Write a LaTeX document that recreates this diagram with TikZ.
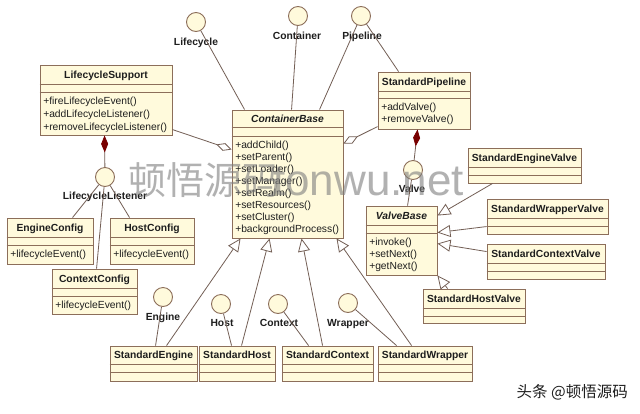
\documentclass[tikz,border=0pt]{standalone}
\usepackage{fontspec}
\setmainfont{Liberation Sans}
\newfontfamily\cjk{Noto Sans CJK SC}
\usetikzlibrary{arrows.meta,calc}
\definecolor{boxfill}{RGB}{255,250,220}
\definecolor{boxdraw}{RGB}{140,110,90}
\definecolor{linec}{RGB}{115,95,85}
\definecolor{darkred}{RGB}{120,0,0}
\definecolor{txt}{RGB}{30,30,30}
\definecolor{wmgray}{RGB}{125,125,125}
\tikzset{
  classbox/.style={draw=boxdraw, fill=boxfill, line width=0.9pt, inner sep=0pt, rectangle},
  sepline/.style={draw=boxdraw, line width=0.9pt},
  ctitle/.style={font=\fontsize{10.3}{12}\selectfont\bfseries, text=txt, inner sep=0pt, text height=7.4pt, text depth=0pt},
  ititle/.style={ctitle, font=\fontsize{10.3}{12}\selectfont\bfseries\itshape},
  methods/.style={font=\fontsize{10.3}{12}\selectfont, text=txt, inner sep=0pt, align=left, anchor=north west},
  iface/.style={circle, draw=boxdraw, fill=boxfill, line width=0.9pt, minimum size=19pt, inner sep=0pt},
  ilabel/.style={ctitle},
  conn/.style={draw=linec, line width=0.8pt},
  gen/.style={conn, -{Triangle[length=13pt,width=12pt,fill=white]}},
  agg/.style={conn, -{Diamond[length=16pt,width=8pt,fill=white]}},
  comp/.style={conn, {Diamond[length=17pt,width=7pt,fill=darkred,color=darkred]}-},
  wmk/.style={text=wmgray, opacity=0.6, inner sep=0pt, anchor=base west}
}
% name, x1, y1, x2, y2, title height, empty height, title style, title
\newcommand{\drawclass}[9]{%
  \node[classbox, minimum width={(#4)-(#2)}, minimum height={(#5)-(#3)}] (#1) at ({((#2)+(#4))/2},{((#3)+(#5))/2}) {};
  \draw[sepline] ([yshift={-(#6)}]#1.north west) -- ([yshift={-(#6)}]#1.north east);
  \draw[sepline] ([yshift={-(#6)-(#7)}]#1.north west) -- ([yshift={-(#6)-(#7)}]#1.north east);
  \node[#8] (#1t) at ([yshift={-(#6)/2}]#1.north) {#9};
}
\begin{document}
\begin{tikzpicture}[x=1pt,y=-1pt]
\fill[white] (0,0) rectangle (640,413);
\useasboundingbox (0,0) rectangle (640,413);

% classes
\drawclass{ls}{40}{65}{172}{135}{20}{8}{ctitle}{LifecycleSupport}
\drawclass{cb}{232}{110}{343}{238}{18}{9}{ititle}{ContainerBase}
\drawclass{sp}{378}{72}{470}{129}{20}{7}{ctitle}{StandardPipeline}
\drawclass{vb}{366}{206}{437}{275}{20}{8}{ititle}{ValveBase}
\drawclass{sev}{468}{148}{581}{183}{20}{8}{ctitle}{StandardEngineValve}
\drawclass{swv}{487}{199}{608}{234}{20}{8}{ctitle}{StandardWrapperValve}
\drawclass{scv}{487}{244}{605}{279}{20}{8}{ctitle}{StandardContextValve}
\drawclass{shv}{423}{289}{525}{323}{20}{8}{ctitle}{StandardHostValve}
\drawclass{ec}{7}{218}{93}{264}{20}{8}{ctitle}{EngineConfig}
\drawclass{hc}{110}{218}{194}{264}{20}{8}{ctitle}{HostConfig}
\drawclass{cc}{52}{269}{137}{314}{20}{8}{ctitle}{ContextConfig}
\drawclass{se}{110}{346}{197}{381}{19}{8}{ctitle}{StandardEngine}
\drawclass{sh}{199}{346}{275}{381}{19}{8}{ctitle}{StandardHost}
\drawclass{sc}{282}{346}{373}{381}{19}{8}{ctitle}{StandardContext}
\drawclass{sw}{378}{346}{472}{381}{19}{8}{ctitle}{StandardWrapper}

% methods
\node[methods, font=\fontsize{10.3}{13}\selectfont] (lsm) at ([xshift=3.5pt,yshift=-32pt]ls.north west)
  {+fireLifecycleEvent()\\+addLifecycleListener()\\+removeLifecycleListener()};
\node[methods] (cbm) at ([xshift=3.5pt,yshift=-31pt]cb.north west)
  {+addChild()\\+setParent()\\+setLoader()\\+setManager()\\+setRealm()\\+setResources()\\+setCluster()\\+backgroundProcess()};
\node[methods] (spm) at ([xshift=3.5pt,yshift=-31pt]sp.north west)
  {+addValve()\\+removeValve()};
\node[methods] (vbm) at ([xshift=3.5pt,yshift=-32pt]vb.north west)
  {+invoke()\\+setNext()\\+getNext()};
\node[methods] (ecm) at ([xshift=3.5pt,yshift=-32pt]ec.north west) {+lifecycleEvent()};
\node[methods] (hcm) at ([xshift=3.5pt,yshift=-32pt]hc.north west) {+lifecycleEvent()};
\node[methods] (ccm) at ([xshift=3.5pt,yshift=-32pt]cc.north west) {+lifecycleEvent()};

% interfaces
\node[iface] (ilc) at (196,22) {};
\node[iface] (icont) at (298,16) {};
\node[iface] (ipipe) at (361,16) {};
\node[iface] (ivalve) at (413,170) {};
\node[iface] (ill) at (105,177) {};
\node[iface] (ieng) at (163,297) {};
\node[iface] (ihost) at (221,304) {};
\node[iface] (ictx) at (278,304) {};
\node[iface] (iwrap) at (348,303) {};

\node[ilabel] (ilcl) at (196,42) {Lifecycle};
\node[ilabel] (icontl) at (297,36) {Container};
\node[ilabel] (ipipel) at (362,36) {Pipeline};
\node[ilabel] (ivalvel) at (412,189) {Valve};
\node[ilabel] (ill-l) at (105,195.5) {LifecycleListener};
\node[ilabel] (iengl) at (163,316.5) {Engine};
\node[ilabel] (ihostl) at (222,323) {Host};
\node[ilabel] (ictxl) at (279,323) {Context};
\node[ilabel] (iwrapl) at (348,323) {Wrapper};

% realizations (interface lollipop lines)
\draw[conn] (ilc) -- ([xshift=13pt]cb.north west);
\draw[conn] (icont) -- ([xshift=60pt]cb.north west);
\draw[conn] (ipipe) -- ([xshift=88pt]cb.north west);
\draw[conn] (ipipe) -- ([xshift=21pt]sp.north west);
\draw[conn] (ivalve) -- ([xshift=42pt]vb.north west);
\draw[conn] (ill) -- ([xshift=66pt]ec.north west);
\draw[conn] (ill) -- ([xshift=20pt]hc.north west);
\draw[conn] (ill) -- ([xshift=45pt]cc.north west);
\draw[conn] (ieng) -- ([xshift=46pt]se.north west);
\draw[conn] (ihost) -- ([xshift=33pt]sh.north west);
\draw[conn] (ictx) -- ([xshift=27pt]sc.north west);
\draw[conn] (iwrap) -- ([xshift=19pt]sw.north west);

% aggregations
\draw[agg] ([yshift=-65pt]ls.north east) -- ([yshift=-40pt]cb.north west);
\draw[agg] ([yshift=-55pt]sp.north west) -- ([yshift=-34pt]cb.north east);

% compositions
\draw[comp] ([xshift=40pt]sp.south west) -- (ivalve);
\draw[comp] ([xshift=65pt]ls.south west) -- (ill);

% generalizations
\draw[gen] ([xshift=25pt]sev.south west) -- ([yshift=-10pt]vb.north east);
\draw[gen] ([yshift=-28pt]swv.north west) -- ([yshift=-27pt]vb.north east);
\draw[gen] ([yshift=-8pt]scv.north west) -- ([yshift=-38pt]vb.north east);
\draw[gen] ([xshift=25pt]shv.north west) -- (vb.south east);
\draw[gen] ([xshift=57pt]se.north west) -- ([xshift=9pt]cb.south west);
\draw[gen] ([xshift=43pt]sh.north west) -- ([xshift=38pt]cb.south west);
\draw[gen] ([xshift=41pt]sc.north west) -- ([xshift=70pt]cb.south west);
\draw[gen] ([xshift=34pt]sw.north west) -- ([xshift=105pt]cb.south west);

% watermark
\node[wmk] (wm1) at (128,194) {\cjk\fontsize{38}{40}\selectfont 顿悟源码};
\node[wmk] (wm2) at (273,195) {\fontsize{44}{48}\selectfont tonwu.net};
\node[anchor=east, inner sep=0pt, text=txt] (credit) at (628,392) {\cjk\fontsize{15.5}{17}\selectfont 头条 @顿悟源码};
\end{tikzpicture}
\end{document}
